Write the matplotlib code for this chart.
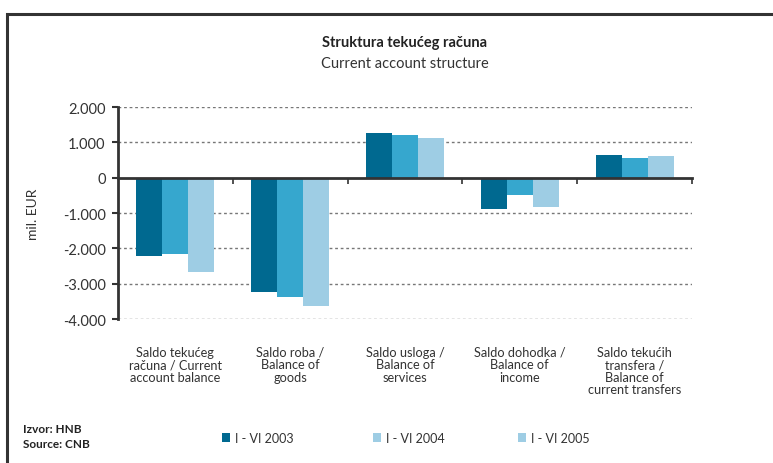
import matplotlib
matplotlib.use("Agg")
import matplotlib.pyplot as plt
import numpy as np
from matplotlib.patches import Rectangle

plt.rcParams['font.family'] = ['Lato', 'DejaVu Sans']

categories = ["Saldo tekućeg\nračuna / Current\naccount balance",
              "Saldo roba /\nBalance of\ngoods",
              "Saldo usloga /\nBalance of\nservices",
              "Saldo dohodka /\nBalance of\nincome",
              "Saldo tekućih\ntransfera /\nBalance of\ncurrent transfers"]
series_names = ["I - VI 2003", "I - VI 2004", "I - VI 2005"]
v2003 = [-2220, -3240, 1260, -900, 630]
v2004 = [-2150, -3390, 1200, -500, 550]
v2005 = [-2680, -3620, 1110, -840, 600]
yticks = [2000, 1000, 0, -1000, -2000, -3000, -4000]
ytick_labels = ["2.000", "1.000", "0", "-1.000", "-2.000", "-3.000", "-4.000"]

colors = ["#006990", "#36A7CE", "#9ECDE4"]
legend_colors = ["#006990", "#9ECDE4", "#9ECDE4"]

W, H = 773, 464
fig = plt.figure(figsize=(W/100, H/100), dpi=100)
ax = fig.add_axes([118/W, 1-320/H, (692-118)/W, (320-108)/H])

# frame
fig.patches.append(Rectangle((7/W, -0.1), 1.2, 1-15/H+0.1, transform=fig.transFigure,
                             fill=False, edgecolor="#333333", linewidth=2.2, zorder=0))

x = np.arange(len(categories))
bw = 0.226
for i, (vals, c) in enumerate(zip([v2003, v2004, v2005], colors)):
    ax.bar(x + (i-1)*bw, vals, width=bw, color=c, zorder=2, linewidth=0)

ax.set_xlim(-0.5, len(categories)-0.5)
ax.set_ylim(-4000, 2000)
ax.set_yticks(yticks)
ax.set_yticklabels(ytick_labels, fontsize=10.5, color="#333333")
ax.tick_params(axis='y', direction='out', length=4, width=1.5, pad=5, color="#333333")
for yv in yticks:
    if yv != 0:
        ax.axhline(yv, color="#777777", linestyle=(0, (2, 2)), linewidth=1.0, zorder=1)

for s in ['top', 'right']:
    ax.spines[s].set_visible(False)
ax.spines['left'].set_linewidth(2)
ax.spines['left'].set_color("#333333")
ax.spines['bottom'].set_position(('data', 0))
ax.spines['bottom'].set_linewidth(2)
ax.spines['bottom'].set_color("#333333")
ax.spines['bottom'].set_zorder(3)

ax.set_xticks(np.arange(len(categories)) + 0.5)
ax.set_xticklabels([])
ax.tick_params(axis='x', which='major', direction='out', length=4, width=1.2, color="#333333")
ax.set_xticks(x, minor=True)
ax.set_xticklabels(categories, minor=True, fontsize=9.2, color="#333333", linespacing=1.05,
                   va='top')
ax.tick_params(axis='x', which='minor', length=0, pad=(346-178)*0.72)

ax.set_ylabel("mil. EUR", fontsize=10, color="#333333")
ax.yaxis.set_label_coords((39-118)/(692-118), 0.5)

fig.text(405/W, 1-43/H, "Struktura tekućeg računa", ha='center', va='center',
         fontsize=10.5, fontweight='bold', color="#222222")
fig.text(405/W, 1-64/H, "Current account structure", ha='center', va='center',
         fontsize=10.5, color="#333333")

fig.text(23/W, 1-430/H, "Izvor: HNB", ha='left', va='center', fontsize=8.5,
         fontweight='bold', color="#222222")
fig.text(23/W, 1-445/H, "Source: CNB", ha='left', va='center', fontsize=8.5,
         fontweight='bold', color="#222222")

for xp, name, c in zip([222, 373, 518], series_names, legend_colors):
    fig.patches.append(Rectangle((xp/W, 1-443/H), 8/W, 9/H, transform=fig.transFigure,
                                 facecolor=c, edgecolor='none'))
    fig.text((xp+13)/W, 1-439/H, name, ha='left', va='center', fontsize=9, color="#333333")

fig.savefig("out.png", dpi=100)
